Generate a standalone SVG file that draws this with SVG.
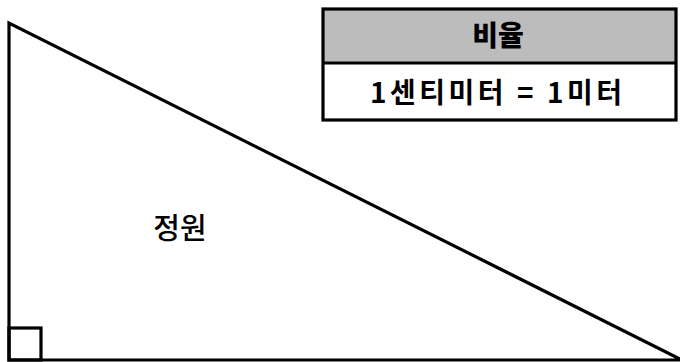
<svg xmlns="http://www.w3.org/2000/svg" width="680" height="362" viewBox="0 0 680 362">
<style>
.ln{fill:none;stroke:#000;stroke-width:3.2;stroke-linejoin:miter}
.t{font-family:"Noto Sans CJK KR","Noto Sans",sans-serif;fill:#000;text-anchor:middle}
</style>
<rect width="680" height="362" fill="#fff"/>
<g id="triangle">
<polyline class="ln" points="680,359 9,23 9,360 680,360"/>
<rect class="ln" x="9" y="328" width="32" height="32"/>
<text class="t" x="180" y="239" font-size="29" font-weight="500">정원</text>
</g>
<g id="scale-box">
<rect x="323" y="9" width="353" height="54" fill="#bcbcbc"/>
<rect class="ln" x="323" y="9" width="353" height="111"/>
<line class="ln" x1="323" y1="63" x2="676" y2="63"/>
<text class="t" x="498" y="46" font-size="28" font-weight="900">비율</text>
<text class="t" x="496" y="103" font-size="28" font-weight="700" textLength="252" lengthAdjust="spacing">1센티미터 = 1미터</text>
</g>
</svg>
